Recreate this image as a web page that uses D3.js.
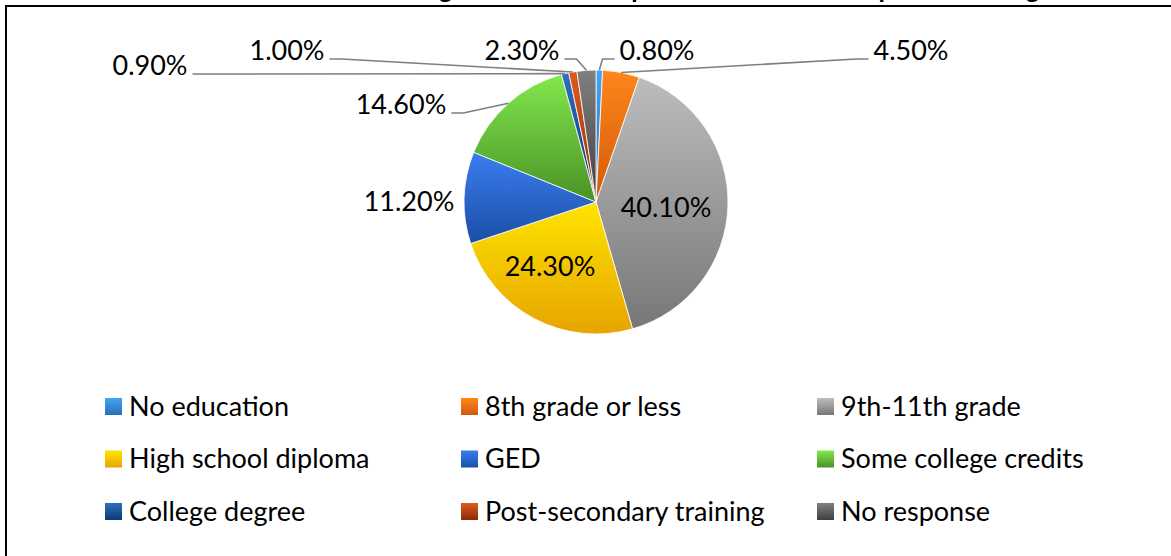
<!DOCTYPE html>
<html>
<head>
<meta charset="utf-8">
<script src="https://cdn.jsdelivr.net/npm/d3@7"></script>
<style>
  html, body { margin: 0; padding: 0; background: #fff; overflow: hidden; }
  svg { display: block; font-family: Lato, "Open Sans", "Liberation Sans", sans-serif; }
</style>
</head>
<body>
<svg id="chart" width="1171" height="556"></svg>
<script>
// ---- data ----
const categories = ["No education", "8th grade or less", "9th-11th grade",
  "High school diploma", "GED", "Some college credits",
  "College degree", "Post-secondary training", "No response"];
const values = [0.8, 4.5, 40.1, 24.3, 11.2, 14.6, 0.9, 1.0, 2.3];
const titleText = "Educational Background of Participants in the Workshop and Training";

// ---- styles ----
const colorTop = ["#42a6f2", "#ff861a", "#bdbdbd", "#ffe400", "#3b7ef0", "#82e84c", "#2f6fbb", "#df5a20", "#808080"];
const colorBottom = ["#2a6cb6", "#d2590b", "#777777", "#e6a400", "#1b4ea6", "#4a9126", "#0b3a77", "#8c2b06", "#3f3f3f"];

// label layout relative to pie centre: [dx of text centre, dy of baseline], and whether a leader is drawn
const labelLayout = [[61, -142], [315, -142], [70, 15], [-46, 74], [-187, 9], [-195, -88], [-446, -127], [-309, -142], [-74, -142]];
const hasLeader = [true, true, false, false, false, true, true, true, true];

const W = 1171, H = 556;
const cx = 596, cy = 202, R = 132;

const svg = d3.select("#chart");
const defs = svg.append("defs");

// gradients
categories.forEach((c, i) => {
  const g = defs.append("linearGradient").attr("id", "grad" + i)
    .attr("x1", 0).attr("y1", 0).attr("x2", 0).attr("y2", 1);
  g.append("stop").attr("offset", "0%").attr("stop-color", colorTop[i]);
  g.append("stop").attr("offset", "100%").attr("stop-color", colorBottom[i]);
});

// title (clipped at top as in the reference)
svg.append("text").attr("x", 640).attr("y", -2)
  .attr("text-anchor", "middle").attr("font-weight", "bold")
  .attr("font-size", 26).attr("fill", "#000").text(titleText);

// frame
svg.append("rect").attr("x", 6).attr("y", 6).attr("width", W + 20).attr("height", H + 20)
  .attr("fill", "none").attr("stroke", "#000").attr("stroke-width", 2);

// pie
const pie = d3.pie().sort(null).value(d => d)(values);
const arc = d3.arc().innerRadius(0).outerRadius(R);
const gPie = svg.append("g").attr("transform", `translate(${cx},${cy})`);
gPie.selectAll("path").data(pie).join("path")
  .attr("d", arc)
  .attr("fill", (d, i) => `url(#grad${i})`)
  .attr("stroke", "#ffffff").attr("stroke-width", 0.8);

// labels
const fmt = v => d3.format(".2f")(v) + "%";
const gLab = svg.append("g").attr("transform", `translate(${cx},${cy})`);
const labels = gLab.selectAll("text").data(pie).join("text")
  .attr("x", (d, i) => labelLayout[i][0])
  .attr("y", (d, i) => labelLayout[i][1])
  .attr("text-anchor", "middle")
  .attr("font-size", 27).attr("fill", "#000")
  .text(d => fmt(d.data));

// leader lines
labels.each(function (d, i) {
  if (!hasLeader[i]) return;
  const w = this.getComputedTextLength();
  const mid = (d.startAngle + d.endAngle) / 2;
  const ax = R * Math.sin(mid), ay = -R * Math.cos(mid);
  const lx = labelLayout[i][0], ly = labelLayout[i][1] - 1;
  const right = lx > ax; // label lies right of its anchor
  const x0 = right ? lx - w / 2 - 5 : lx + w / 2 + 5;
  const x1 = right ? x0 - 12 : x0 + 12;
  gLab.insert("path", "text")
    .attr("d", d3.line()([[x0, ly], [x1, ly], [ax, ay]]))
    .attr("fill", "none").attr("stroke", "#7f7f7f").attr("stroke-width", 1.6);
});

// legend
const legX0 = 105, legColStep = 356, legY0 = 406.5, legRowStep = 52.5, sw = 17;
const leg = svg.append("g").selectAll("g").data(categories).join("g")
  .attr("transform", (d, i) => `translate(${legX0 + (i % 3) * legColStep},${legY0 + Math.floor(i / 3) * legRowStep})`);
leg.append("rect").attr("x", 0).attr("y", -sw / 2).attr("width", sw).attr("height", sw)
  .attr("fill", (d, i) => `url(#grad${i})`);
leg.append("text").attr("x", 24).attr("y", 9)
  .attr("font-size", 27).attr("fill", "#000").text(d => d);
</script>
</body>
</html>
